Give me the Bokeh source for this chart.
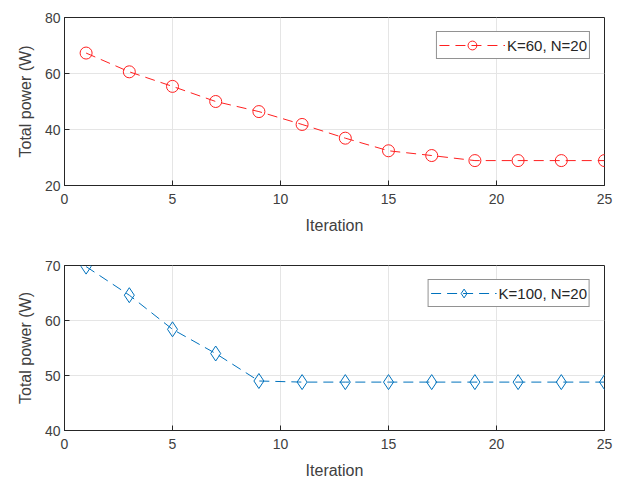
from bokeh.plotting import figure
from bokeh.layouts import column
from bokeh.models import Range1d, FixedTicker, Legend, LegendItem
from bokeh.embed import file_html
from bokeh.resources import INLINE

iterations = [1, 3, 5, 7, 9, 11, 13, 15, 17, 19, 21, 23, 25]
power_k60 = [67.3, 60.6, 55.4, 50.0, 46.4, 41.8, 36.9, 32.4, 30.7, 28.9, 28.9, 28.9, 28.9]
power_k100 = [69.8, 64.6, 58.4, 54.0, 49.0, 48.8, 48.8, 48.8, 48.8, 48.8, 48.8, 48.8, 48.8]
x_ticks = [0, 5, 10, 15, 20, 25]
y_ticks_top = [20, 40, 60, 80]
y_ticks_bottom = [40, 50, 60, 70]
label_top = "K=60, N=20"
label_bottom = "K=100, N=20"

FONT = "Liberation Sans"
TXT = "#262626"


def style_axis(ax):
    ax.major_tick_in = 5
    ax.major_tick_out = 0
    ax.minor_tick_in = 0
    ax.minor_tick_out = 0
    ax.axis_line_color = TXT
    ax.major_tick_line_color = TXT
    ax.major_label_text_font = FONT
    ax.major_label_text_font_size = "14px"
    ax.major_label_text_color = "#404040"
    ax.axis_label_text_font = FONT
    ax.axis_label_text_font_size = "16px"
    ax.axis_label_text_font_style = "normal"
    ax.axis_label_text_color = "#404040"


def make_fig(ys, yticks, ymin, ymax, color, marker, msize, label, fh, top_border, bottom_border):
    p = figure(output_backend="svg", toolbar_location=None,
               frame_width=540, frame_height=fh,
               x_range=Range1d(0, 25), y_range=Range1d(ymin, ymax),
               min_border_left=64, min_border_right=12,
               min_border_top=top_border, min_border_bottom=bottom_border,
               x_axis_label="Iteration", y_axis_label="Total power (W)")
    p.outline_line_color = TXT
    p.outline_line_width = 1
    p.background_fill_color = "white"
    p.border_fill_color = "white"
    p.xaxis.ticker = FixedTicker(ticks=x_ticks)
    p.yaxis.ticker = FixedTicker(ticks=yticks)
    style_axis(p.xaxis[0])
    style_axis(p.yaxis[0])
    p.xaxis.major_label_standoff = 8
    p.xaxis.axis_label_standoff = 10
    p.yaxis.major_label_standoff = 4
    p.yaxis.axis_label_standoff = 8

    p.grid.grid_line_color = "#e5e5e5"
    p.grid.grid_line_width = 1
    p.xgrid.ticker = FixedTicker(ticks=x_ticks)
    p.ygrid.ticker = FixedTicker(ticks=yticks)

    ln = p.line(iterations, ys, line_color=color, line_width=1, line_dash="10 6")
    sc = p.scatter(iterations, ys, marker=marker, size=msize, fill_color=None,
                   line_color=color, line_width=1)
    legend = Legend(items=[LegendItem(label=label, renderers=[ln, sc])],
                    location="top_right", margin=14,
                    border_line_color=TXT, border_line_width=1,
                    background_fill_color="white", background_fill_alpha=1,
                    label_text_font=FONT, label_text_font_size="15px",
                    label_text_color=TXT, glyph_width=66, glyph_height=22,
                    padding=2, label_standoff=2, spacing=0)
    p.add_layout(legend, "center")
    return p


p1 = make_fig(power_k60, y_ticks_top, 20, 80, "#ff2020", "circle", 12, label_top, 168, 17, 63)
p2 = make_fig(power_k100, y_ticks_bottom, 40, 70, "#0072bd", "diamond", 15, label_bottom, 165, 17, 50)

layout = column(p1, p2, spacing=0)
open("out.html", "w").write(file_html(layout, INLINE))
